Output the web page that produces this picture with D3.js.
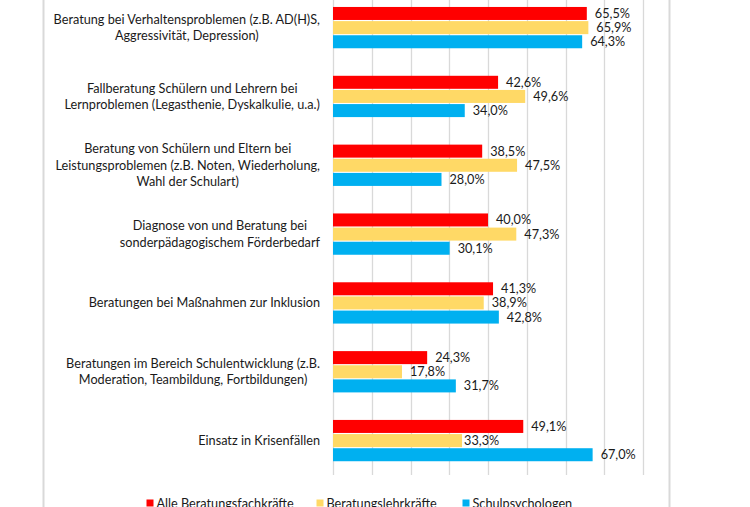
<!DOCTYPE html>
<html><head><meta charset="utf-8">
<script src="https://cdn.jsdelivr.net/npm/d3@7"></script>
<style>html,body{margin:0;padding:0;background:#fff;overflow:hidden}svg{display:block}</style>
</head><body><svg id="c" width="750" height="507"></svg>
<script>
const categories = [
  ["Beratung bei Verhaltensproblemen (z.B. AD(H)S,", "Aggressivität, Depression)"],
  ["Fallberatung Schülern und Lehrern bei", "Lernproblemen (Legasthenie, Dyskalkulie, u.a.)"],
  ["Beratung von Schülern und Eltern bei", "Leistungsproblemen (z.B. Noten, Wiederholung,", "Wahl der Schulart)"],
  ["Diagnose von und Beratung bei", "sonderpädagogischem Förderbedarf"],
  ["Beratungen bei Maßnahmen zur Inklusion"],
  ["Beratungen im Bereich Schulentwicklung (z.B.", "Moderation, Teambildung, Fortbildungen)"],
  ["Einsatz in Krisenfällen"]
];
const seriesNames = ["Alle Beratungsfachkräfte", "Beratungslehrkräfte", "Schulpsychologen"];
const alleValues = [65.5, 42.6, 38.5, 40.0, 41.3, 24.3, 49.1];
const lehrkraefteValues = [65.9, 49.6, 47.5, 47.3, 38.9, 17.8, 33.3];
const psychologenValues = [64.3, 34.0, 28.0, 30.1, 42.8, 31.7, 67.0];
const gridTicks = [0, 10, 20, 30, 40, 50, 60, 70, 80];

const colors = ["#FF0000", "#FFD966", "#00B0F0"];
const series = [alleValues, lehrkraefteValues, psychologenValues];
const FONT = "Lato, 'Open Sans', sans-serif";
const FS = 12.7;
const TXT = "#1a1a1a";

const svg = d3.select("#c");
const gridColor = "#d9d9d9";

// chart frame lines
svg.append("line").attr("x1", 43.5).attr("x2", 43.5).attr("y1", -10).attr("y2", 520)
  .attr("stroke", gridColor).attr("stroke-width", 2);
svg.append("line").attr("x1", 669.5).attr("x2", 669.5).attr("y1", -10).attr("y2", 520)
  .attr("stroke", gridColor).attr("stroke-width", 2);

const x = d3.scaleLinear().domain([0, 80]).range([333, 643]);
const y = d3.scaleBand().domain(d3.range(categories.length)).range([-6.8, 475])
  .paddingInner(0.4).paddingOuter(0.2);
const ySub = d3.scaleBand().domain([0, 1, 2]).range([0, y.bandwidth()]).paddingInner(0.08);

// gridlines
svg.append("g").selectAll("line").data(gridTicks).join("line")
  .attr("x1", d => Math.round(x(d)) + 0.5).attr("x2", d => Math.round(x(d)) + 0.5)
  .attr("y1", y.range()[0]).attr("y2", y.range()[1])
  .attr("stroke", gridColor).attr("stroke-width", 1.3);

const fmt = d3.formatLocale({decimal: ",", thousands: ".", grouping: [3], currency: ["", "€"]}).format(".1f");

// bars
series.forEach((vals, si) => {
  const g = svg.append("g");
  g.selectAll("rect").data(vals).join("rect")
    .attr("x", x(0))
    .attr("y", (d, i) => y(i) + ySub(si))
    .attr("width", d => x(d) - x(0))
    .attr("height", ySub.bandwidth())
    .attr("fill", colors[si]);
  g.selectAll("text").data(vals).join("text")
    .attr("x", (d, i) => x(d) + ((si === 1 && i === 6) ? 2 : 8))
    .attr("y", (d, i) => y(i) + ySub(si) + ySub.bandwidth() / 2)
    .attr("dy", "0.35em")
    .attr("font-family", FONT).attr("font-size", FS).attr("fill", TXT)
    .text(d => fmt(d) + "%");
});

// category labels
const lineH = 16.5;
const labelRight = 320;
categories.forEach((lines, i) => {
  const cy = y(i) + y.bandwidth() / 2;
  const g = svg.append("g");
  const ts = lines.map((ln, k) => g.append("text")
    .attr("y", cy + (k - (lines.length - 1) / 2) * lineH)
    .attr("dy", "0.35em")
    .attr("text-anchor", "middle")
    .attr("font-family", FONT).attr("font-size", FS).attr("fill", TXT)
    .text(ln));
  const maxW = d3.max(ts, t => t.node().getComputedTextLength());
  ts.forEach(t => t.attr("x", labelRight - maxW / 2));
});

// legend
const legendX = [146.5, 316.5, 462.5];
const legendY = 508;
seriesNames.forEach((name, si) => {
  svg.append("rect").attr("x", legendX[si]).attr("y", legendY - 8.5)
    .attr("width", 7).attr("height", 7).attr("fill", colors[si]);
  svg.append("text").attr("x", legendX[si] + 10).attr("y", legendY)
    .attr("font-family", FONT).attr("font-size", FS).attr("fill", TXT)
    .text(name);
});
</script></body></html>
